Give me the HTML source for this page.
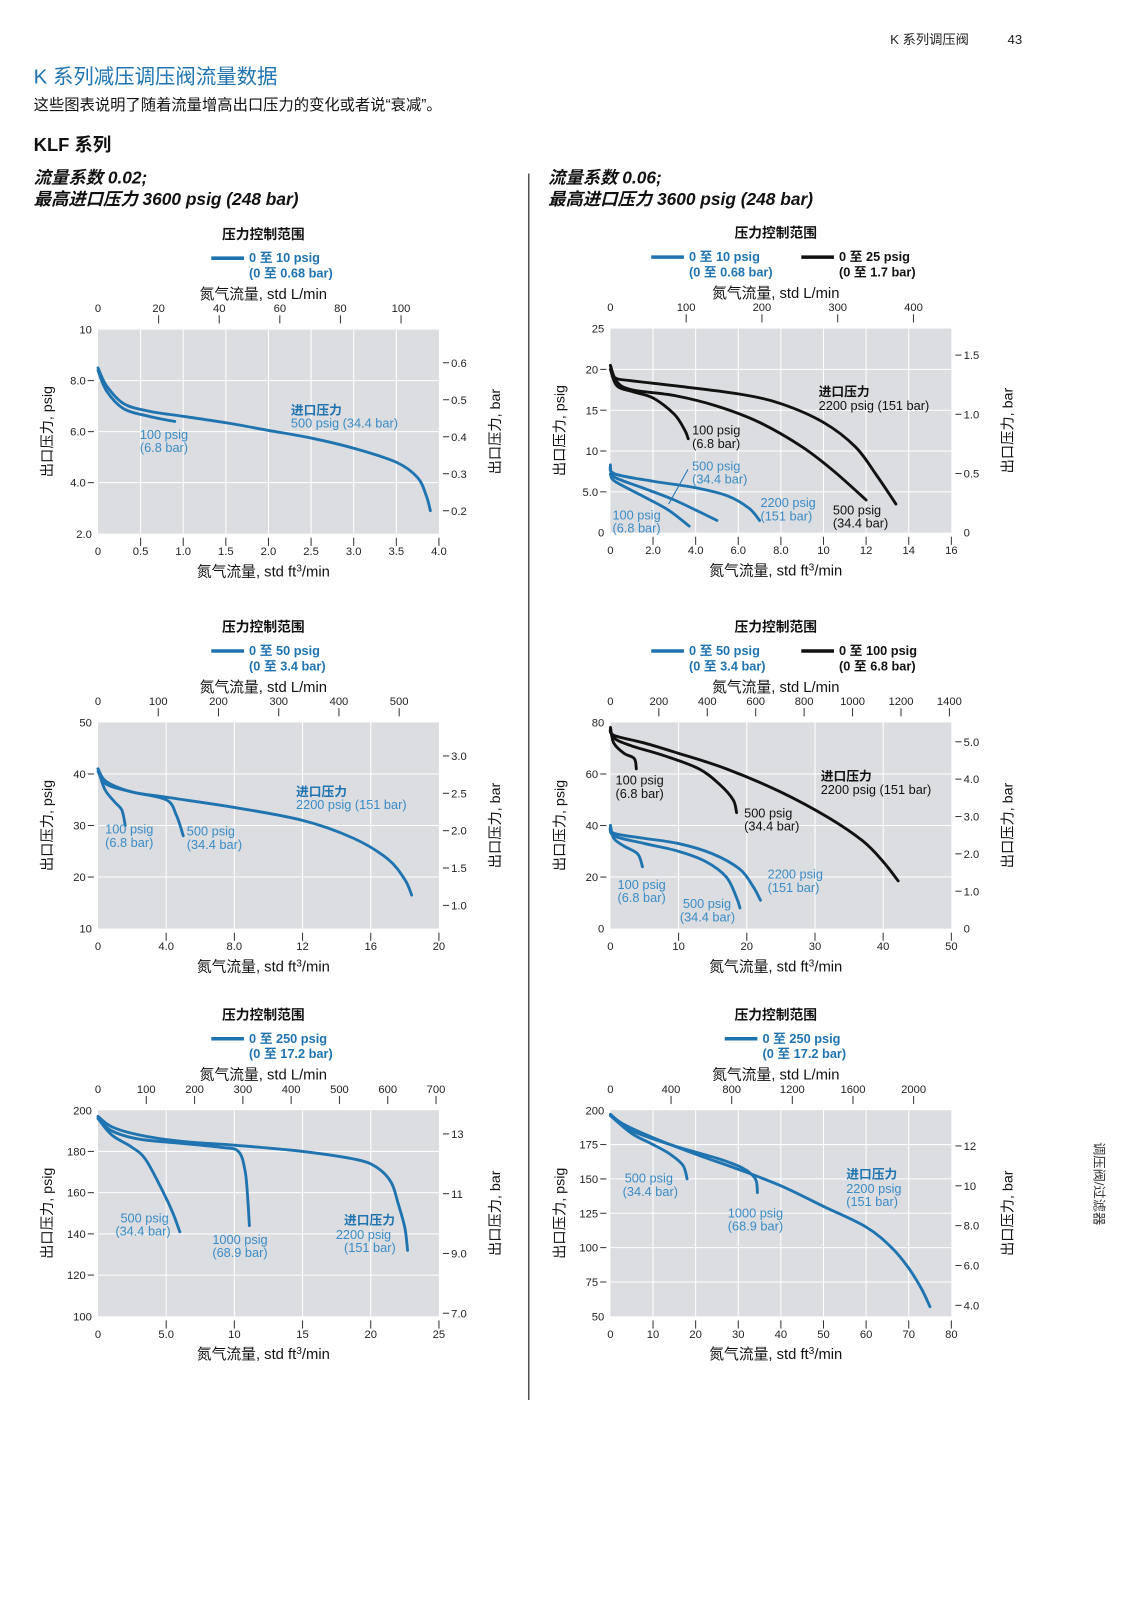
<!DOCTYPE html>
<html><head><meta charset="utf-8"><style>
html,body{margin:0;padding:0;background:#fff;}
svg{display:block;font-family:"Liberation Sans","Noto Sans CJK SC",sans-serif;}
</style></head><body>
<svg id="pg" width="1131" height="1600" viewBox="0 0 1108 1568" preserveAspectRatio="none" xmlns="http://www.w3.org/2000/svg">
<text x="872" y="43" font-size="13" fill="#222">K  系列调压阀</text>
<text x="987" y="43" font-size="13" fill="#222">43</text>
<text x="33" y="82" font-size="20" fill="#1f74b0">K 系列减压调压阀流量数据</text>
<text x="33" y="108" font-size="15" fill="#111">这些图表说明了随着流量增高出口压力的变化或者说“衰减”。</text>
<text x="33" y="148" font-size="18" font-weight="bold" fill="#111">KLF 系列</text>
<text x="33" y="180" font-size="17" font-weight="bold" font-style="italic" fill="#111">流量系数 0.02;</text>
<text x="33" y="201" font-size="17" font-weight="bold" font-style="italic" fill="#111">最高进口压力 3600 psig (248 bar)</text>
<text x="537" y="180" font-size="17" font-weight="bold" font-style="italic" fill="#111">流量系数 0.06;</text>
<text x="537" y="201" font-size="17" font-weight="bold" font-style="italic" fill="#111">最高进口压力 3600 psig (248 bar)</text>
<line x1="518" y1="170" x2="518" y2="1372" stroke="#555" stroke-width="1.5"/>
<text transform="translate(1072,1160) rotate(90)" font-size="13" fill="#333" text-anchor="middle">调压阀/过滤器</text>
</svg>
<script>
// ---- chart data ----
const c1_x500=[0,0.1,0.3,0.6,1,1.5,2,2.5,3,3.5,3.75,3.85,3.9];
const c1_y500=[8.5,7.8,7.1,6.8,6.6,6.35,6.05,5.75,5.35,4.8,4.2,3.5,2.9];
const c1_x100=[0,0.1,0.3,0.6,0.9];
const c1_y100=[8.4,7.6,6.9,6.6,6.4];

const c2_xb2200=[0,0.2,1,3,6,8,10,11.5,12.5,13.4];
const c2_yb2200=[20.5,19,18.6,18,17,15.8,13.5,10.5,7,3.5];
const c2_xb500=[0,0.3,1,3,5,7,9,10.5,12];
const c2_yb500=[20.5,18.5,17.5,16.8,15.5,13.5,10.5,7.5,4];
const c2_xb100=[0,0.3,1,2,3,3.5,3.65];
const c2_yb100=[20,18,17.3,16.5,14.5,12.5,11.5];
const c2_xl2200=[0,0.2,2,4,5.5,6.5,7];
const c2_yl2200=[8.3,7.2,6.3,5.5,4.5,3,1.5];
const c2_xl500=[0,0.2,1.5,3,5];
const c2_yl500=[8,6.8,5.5,4,1.5];
const c2_xl100=[0,0.2,1.5,2.7,3.7];
const c2_yl100=[7.2,6.3,4.5,2.8,0.8];

const c3_x2200=[0,0.5,2,4,8,12,15,17,18,18.4];
const c3_y2200=[41,38.5,36.5,35.5,33.5,31,27.5,23.5,19.5,16.5];
const c3_x500=[0,0.5,2,4,4.6,5];
const c3_y500=[40.5,38,36.5,35,32,28];
const c3_x100=[0,0.4,1,1.4,1.6];
const c3_y100=[41,37,34.5,33,30];

const c4_xb2200=[0,0.5,5,10,17,25,32,37,40,42.2];
const c4_yb2200=[78,75,72,68,62,53,43,34,26,18.5];
const c4_xb500=[0,0.5,3,8,13,16,18,18.5];
const c4_yb500=[78,74,71,67,62,56,50,45];
const c4_xb100=[0,0.5,2,3.5,3.8];
const c4_yb100=[78,72,68,66,62];
const c4_xl2200=[0,0.5,5,10,15,19,21,22];
const c4_yl2200=[40,37,35,33,29,23,16,11];
const c4_xl500=[0,0.5,5,10,14,17,18.5,19];
const c4_yl500=[40,36,33,30,26,20,12,8];
const c4_xl100=[0,0.5,2,4,4.7];
const c4_yl100=[40,35,32,29,24];

const c5_x2200=[0,1,3,6,10,15,19,20.5,21.5,22,22.5,22.7];
const c5_y2200=[197,192,188,185,183,180,176,172,165,155,143,132];
const c5_x1000=[0,1,3,6,9,10.3,10.8,11,11.1];
const c5_y1000=[196,190,186,184,182,180,170,155,144];
const c5_x500=[0,1,2.5,3.5,4.8,5.5,6];
const c5_y500=[196,188,182,176,160,150,141];

const c6_x2200=[0,3,10,20,30,40,50,60,66,70,73,75];
const c6_y2200=[197,190,180,168,157,145,130,115,100,85,70,57];
const c6_x1000=[0,5,15,25,31,34,34.5];
const c6_y1000=[196,185,174,165,158,150,140];
const c6_x500=[0,5,10,14,17,18];
const c6_y500=[196,183,175,168,160,150];

// tick label arrays
const c1_xt=["0","0.5","1.0","1.5","2.0","2.5","3.0","3.5","4.0"], c1_yt=["2.0","4.0","6.0","8.0","10"], c1_tt=["0","20","40","60","80","100"], c1_rt=["0.2","0.3","0.4","0.5","0.6"];
const c2_xt=["0","2.0","4.0","6.0","8.0","10","12","14","16"], c2_yt=["0","5.0","10","15","20","25"], c2_tt=["0","100","200","300","400"], c2_rt=["0","0.5","1.0","1.5"];
const c3_xt=["0","4.0","8.0","12","16","20"], c3_yt=["10","20","30","40","50"], c3_tt=["0","100","200","300","400","500"], c3_rt=["1.0","1.5","2.0","2.5","3.0"];
const c4_xt=["0","10","20","30","40","50"], c4_yt=["0","20","40","60","80"], c4_tt=["0","200","400","600","800","1000","1200","1400"], c4_rt=["0","1.0","2.0","3.0","4.0","5.0"];
const c5_xt=["0","5.0","10","15","20","25"], c5_yt=["100","120","140","160","180","200"], c5_tt=["0","100","200","300","400","500","600","700"], c5_rt=["7.0","9.0","11","13"];
const c6_xt=["0","10","20","30","40","50","60","70","80"], c6_yt=["50","75","100","125","150","175","200"], c6_tt=["0","400","800","1200","1600","2000"], c6_rt=["4.0","6.0","8.0","10","12"];

const BLUE="#1f74b0", LBLUE="#3a8cc6", BLACK="#111";
const NS="http://www.w3.org/2000/svg";
const svg=document.getElementById('pg');
function mk(tag,attrs,parent,txt){const e=document.createElementNS(NS,tag);for(const k in attrs)e.setAttribute(k,attrs[k]);if(txt!==undefined)e.textContent=txt;(parent||svg).appendChild(e);return e;}
function smooth(p){let d="M"+p[0][0]+","+p[0][1];for(let i=0;i<p.length-1;i++){const p0=p[i-1]||p[i],p1=p[i],p2=p[i+1],p3=p[i+2]||p2;const c1x=p1[0]+(p2[0]-p0[0])/6,c1y=p1[1]+(p2[1]-p0[1])/6,c2x=p2[0]-(p3[0]-p1[0])/6,c2y=p2[1]-(p3[1]-p1[1])/6;d+=" C"+c1x.toFixed(1)+","+c1y.toFixed(1)+" "+c2x.toFixed(1)+","+c2y.toFixed(1)+" "+p2[0].toFixed(1)+","+p2[1].toFixed(1);}return d;}

function chart(c){
  const g=mk('g',{});
  
  
  const W=c.x1-c.x0,H=c.y1-c.y0;
  const sx=v=>c.x0+(v-c.xmin)/(c.xmax-c.xmin)*W;
  const sy=v=>c.y1-(v-c.ymin)/(c.ymax-c.ymin)*H;
  const cx=(c.x0+c.x1)/2;
  const t=mk('text',{x:cx-5,y:c.y0-89,'font-size':13.5,'font-weight':'bold','text-anchor':'middle',fill:'#111'},g,'压力控制范围');
  
  c.legend.forEach(L=>{
    const lg=mk('g',{},g);
    
    mk('line',{x1:L.x,y1:c.y0-70,x2:L.x+32,y2:c.y0-70,stroke:L.col,'stroke-width':3.5},lg);
    mk('text',{x:L.x+37,y:c.y0-66,'font-size':12.5,'font-weight':'bold',fill:L.col},lg,L.t1);
    mk('text',{x:L.x+37,y:c.y0-51,'font-size':12.5,'font-weight':'bold',fill:L.col},lg,L.t2);
  });
  const tt=mk('text',{x:cx-5,y:c.y0-30,'font-size':14.5,'text-anchor':'middle',fill:'#111'},g,'氮气流量, std L/min');
  
  const bg=mk('rect',{x:c.x0,y:c.y0,width:W,height:H,fill:'#dcdde0'},g);
  
  // grid
  c.xt.forEach((lab,i)=>{const v=c.xmin+i*c.xs;const x=sx(v);
    if(i>0&&i<c.xt.length-1) mk('line',{x1:x,y1:c.y0,x2:x,y2:c.y1,stroke:'#fff','stroke-width':1},g);
    if(i>0) mk('line',{x1:x,y1:c.y1+4,x2:x,y2:c.y1+12,stroke:'#333','stroke-width':1},g);
    const e=mk('text',{x:x,y:c.y1+21,'font-size':11,'text-anchor':'middle',fill:'#222'},g,lab);
    });
  c.yt.forEach((lab,i)=>{const v=c.ymin+i*c.ys;const y=sy(v);
    if(i>0&&i<c.yt.length-1){mk('line',{x1:c.x0,y1:y,x2:c.x1,y2:y,stroke:'#fff','stroke-width':1},g);
      mk('line',{x1:c.x0-10,y1:y,x2:c.x0-4,y2:y,stroke:'#333','stroke-width':1},g);}
    const e=mk('text',{x:c.x0-(i>0&&i<c.yt.length-1?12:6),y:y+4,'font-size':11,'text-anchor':'end',fill:'#222'},g,lab);
    });
  c.tt.forEach((lab,i)=>{const x=c.x0+(i*c.ts)/c.tmax*W;
    if(i>0) mk('line',{x1:x,y1:c.y0-14,x2:x,y2:c.y0-6,stroke:'#333','stroke-width':1},g);
    const e=mk('text',{x:x,y:c.y0-17,'font-size':11,'text-anchor':'middle',fill:'#222'},g,lab);
    });
  c.rt.forEach((lab,i)=>{const y=sy((c.rmin+i*c.rs)*14.5);
    if(y>=c.y1-1){const e=mk('text',{x:c.x1+12,y:y+4,'font-size':11,fill:'#222'},g,lab);return;}
    mk('line',{x1:c.x1+4,y1:y,x2:c.x1+10,y2:y,stroke:'#333','stroke-width':1},g);
    const e=mk('text',{x:c.x1+12,y:y+4,'font-size':11,fill:'#222'},g,lab);
    });
  const my=(c.y0+c.y1)/2;
  const yl=mk('text',{transform:`translate(${c.x0-45},${my}) rotate(-90)`,'font-size':14,'text-anchor':'middle',fill:'#111'},g,'出口压力, psig');
  
  const yr=mk('text',{transform:`translate(${c.x1+60},${my}) rotate(-90)`,'font-size':14,'text-anchor':'middle',fill:'#111'},g,'出口压力, bar');
  
  const xb=mk('text',{x:cx-5,y:c.y1+42,'font-size':14.5,'text-anchor':'middle',fill:'#111'},g);
  
  xb.innerHTML='氮气流量, std ft<tspan dy="-5" font-size="10">3</tspan><tspan dy="5">/min</tspan>';
  c.series.forEach(s=>{const pts=s.xs.map((v,i)=>[sx(v),sy(s.ys[i])]);
    const p=mk('path',{d:smooth(pts),fill:'none',stroke:s.col,'stroke-width':2.8,'stroke-linecap':'round'},g);
    });
  (c.lines||[]).forEach(l=>mk('line',{x1:l[0],y1:l[1],x2:l[2],y2:l[3],stroke:'#1f74b0','stroke-width':1},g));
  c.labels.forEach(L=>{const e=mk('text',{x:L[0],y:L[1],'font-size':12.5,fill:L[3],'font-weight':L[4]?'bold':'normal'},g,L[2]);
    });
}

chart({name:'chart-cv002-10psig',x0:96,x1:430,y0:323,y1:523,xmin:0,xmax:4,ymin:2,ymax:10,xs:0.5,ys:2,xt:c1_xt,yt:c1_yt,tt:c1_tt,ts:20,tmax:112.5,rt:c1_rt,rmin:0.2,rs:0.1,
  legend:[{x:207,col:BLUE,t1:'0 至 10 psig',t2:'(0 至 0.68 bar)'}],
  series:[{name:'curve-500psig',xs:c1_x500,ys:c1_y500,col:BLUE},{name:'curve-100psig',xs:c1_x100,ys:c1_y100,col:BLUE}],
  labels:[[285,406,'进口压力',BLUE,1],[285,419,'500 psig (34.4 bar)',LBLUE],[137,430,'100 psig',LBLUE],[137,443,'(6.8 bar)',LBLUE]]});

chart({name:'chart-cv006-low',x0:598,x1:932,y0:322,y1:522,xmin:0,xmax:16,ymin:0,ymax:25,xs:2,ys:5,xt:c2_xt,yt:c2_yt,tt:c2_tt,ts:100,tmax:450,rt:c2_rt,rmin:0,rs:0.5,
  legend:[{x:638,col:BLUE,t1:'0 至 10 psig',t2:'(0 至 0.68 bar)'},{x:785,col:BLACK,t1:'0 至 25 psig',t2:'(0 至 1.7 bar)'}],
  series:[{name:'curve-black-2200psig',xs:c2_xb2200,ys:c2_yb2200,col:BLACK},{name:'curve-black-500psig',xs:c2_xb500,ys:c2_yb500,col:BLACK},{name:'curve-black-100psig',xs:c2_xb100,ys:c2_yb100,col:BLACK},
    {name:'curve-blue-2200psig',xs:c2_xl2200,ys:c2_yl2200,col:BLUE},{name:'curve-blue-500psig',xs:c2_xl500,ys:c2_yl500,col:BLUE},{name:'curve-blue-100psig',xs:c2_xl100,ys:c2_yl100,col:BLUE}],
  lines:[[674,460,655,494]],
  labels:[[802,388,'进口压力',BLACK,1],[802,402,'2200 psig (151 bar)',BLACK],[678,426,'100 psig',BLACK],[678,439,'(6.8 bar)',BLACK],[678,461,'500 psig',LBLUE],[678,474,'(34.4 bar)',LBLUE],
    [745,497,'2200 psig',LBLUE],[745,510,'(151 bar)',LBLUE],[816,504,'500 psig',BLACK],[816,517,'(34.4 bar)',BLACK],[600,509,'100 psig',LBLUE],[600,522,'(6.8 bar)',LBLUE]]});

chart({name:'chart-cv002-50psig',x0:96,x1:430,y0:708,y1:910,xmin:0,xmax:20,ymin:10,ymax:50,xs:4,ys:10,xt:c3_xt,yt:c3_yt,tt:c3_tt,ts:100,tmax:566,rt:c3_rt,rmin:1.0,rs:0.5,
  legend:[{x:207,col:BLUE,t1:'0 至 50 psig',t2:'(0 至 3.4 bar)'}],
  series:[{name:'curve-2200psig',xs:c3_x2200,ys:c3_y2200,col:BLUE},{name:'curve-500psig',xs:c3_x500,ys:c3_y500,col:BLUE},{name:'curve-100psig',xs:c3_x100,ys:c3_y100,col:BLUE}],
  labels:[[290,780,'进口压力',BLUE,1],[290,793,'2200 psig (151 bar)',LBLUE],[103,817,'100 psig',LBLUE],[103,830,'(6.8 bar)',LBLUE],[183,819,'500 psig',LBLUE],[183,832,'(34.4 bar)',LBLUE]]});

chart({name:'chart-cv006-mid',x0:598,x1:932,y0:708,y1:910,xmin:0,xmax:50,ymin:0,ymax:80,xs:10,ys:20,xt:c4_xt,yt:c4_yt,tt:c4_tt,ts:200,tmax:1408,rt:c4_rt,rmin:0,rs:1,
  legend:[{x:638,col:BLUE,t1:'0 至 50 psig',t2:'(0 至 3.4 bar)'},{x:785,col:BLACK,t1:'0 至 100 psig',t2:'(0 至 6.8 bar)'}],
  series:[{name:'curve-black-2200psig',xs:c4_xb2200,ys:c4_yb2200,col:BLACK},{name:'curve-black-500psig',xs:c4_xb500,ys:c4_yb500,col:BLACK},{name:'curve-black-100psig',xs:c4_xb100,ys:c4_yb100,col:BLACK},
    {name:'curve-blue-2200psig',xs:c4_xl2200,ys:c4_yl2200,col:BLUE},{name:'curve-blue-500psig',xs:c4_xl500,ys:c4_yl500,col:BLUE},{name:'curve-blue-100psig',xs:c4_xl100,ys:c4_yl100,col:BLUE}],
  labels:[[603,769,'100 psig',BLACK],[603,782,'(6.8 bar)',BLACK],[729,801,'500 psig',BLACK],[729,814,'(34.4 bar)',BLACK],[804,765,'进口压力',BLACK,1],[804,778,'2200 psig (151 bar)',BLACK],
    [752,861,'2200 psig',LBLUE],[752,874,'(151 bar)',LBLUE],[605,871,'100 psig',LBLUE],[605,884,'(6.8 bar)',LBLUE],[669,890,'500 psig',LBLUE],[666,903,'(34.4 bar)',LBLUE]]});

chart({name:'chart-cv002-250psig',x0:96,x1:430,y0:1088,y1:1290,xmin:0,xmax:25,ymin:100,ymax:200,xs:5,ys:20,xt:c5_xt,yt:c5_yt,tt:c5_tt,ts:100,tmax:706,rt:c5_rt,rmin:7,rs:2,
  legend:[{x:207,col:BLUE,t1:'0 至 250 psig',t2:'(0 至 17.2 bar)'}],
  series:[{name:'curve-2200psig',xs:c5_x2200,ys:c5_y2200,col:BLUE},{name:'curve-1000psig',xs:c5_x1000,ys:c5_y1000,col:BLUE},{name:'curve-500psig',xs:c5_x500,ys:c5_y500,col:BLUE}],
  labels:[[118,1198,'500 psig',LBLUE],[113,1211,'(34.4 bar)',LBLUE],[208,1219,'1000 psig',LBLUE],[208,1232,'(68.9 bar)',LBLUE],[337,1200,'进口压力',BLUE,1],[329,1214,'2200 psig',LBLUE],[337,1227,'(151 bar)',LBLUE]]});

chart({name:'chart-cv006-250psig',x0:598,x1:932,y0:1088,y1:1290,xmin:0,xmax:80,ymin:50,ymax:200,xs:10,ys:25,xt:c6_xt,yt:c6_yt,tt:c6_tt,ts:400,tmax:2249,rt:c6_rt,rmin:4,rs:2,
  legend:[{x:710,col:BLUE,t1:'0 至 250 psig',t2:'(0 至 17.2 bar)'}],
  series:[{name:'curve-2200psig',xs:c6_x2200,ys:c6_y2200,col:BLUE},{name:'curve-1000psig',xs:c6_x1000,ys:c6_y1000,col:BLUE},{name:'curve-500psig',xs:c6_x500,ys:c6_y500,col:BLUE}],
  labels:[[612,1159,'500 psig',LBLUE],[610,1172,'(34.4 bar)',LBLUE],[713,1193,'1000 psig',LBLUE],[713,1206,'(68.9 bar)',LBLUE],[829,1155,'进口压力',BLUE,1],[829,1169,'2200 psig',LBLUE],[829,1182,'(151 bar)',LBLUE]]});
</script>
</body></html>
